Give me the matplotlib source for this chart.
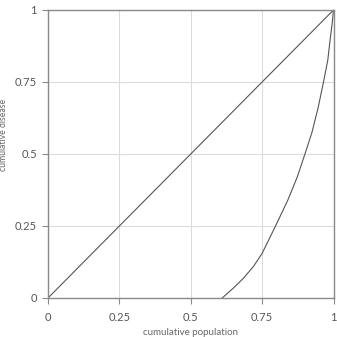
import matplotlib
matplotlib.use("Agg")
import matplotlib.pyplot as plt

ticks = [0, 0.25, 0.5, 0.75, 1]
tick_labels = ["0", "0.25", "0.5", "0.75", "1"]
diag_x = [0, 1]
diag_y = [0, 1]
curve_x = [0.61, 0.65, 0.684, 0.72, 0.75, 0.797, 0.84, 0.873, 0.90, 0.924, 0.946, 0.965, 0.98, 0.988, 0.995, 1.0]
curve_y = [0.0, 0.035, 0.068, 0.11, 0.155, 0.25, 0.34, 0.42, 0.5, 0.573, 0.66, 0.75, 0.826, 0.896, 0.95, 1.0]

plt.rcParams['font.family'] = ['Lato', 'DejaVu Sans']
fig = plt.figure(figsize=(3.37, 3.37), dpi=100)
ax = fig.add_axes([48/337, 39/337, 285.5/337, 288/337])
ax.set_xlim(0, 1)
ax.set_ylim(0, 1)
ax.set_xticks(ticks)
ax.set_xticklabels(tick_labels)
ax.set_yticks(ticks)
ax.set_yticklabels(tick_labels)
ax.grid(True, color="#dcdcdc", linewidth=0.8)
ax.set_axisbelow(True)
for s in ax.spines.values():
    s.set_color("#8a8a8a")
    s.set_linewidth(1.0)
ax.tick_params(direction="out", length=4, width=0.8, color="#8a8a8a", labelcolor="#555555", labelsize=8, pad=4)
ax.tick_params(axis="x", pad=6)
ax.plot(diag_x, diag_y, color="#555555", linewidth=0.8)
ax.plot(curve_x, curve_y, color="#555555", linewidth=0.8)
ax.set_xlabel("cumulative population", fontsize=7, color="#666666", labelpad=4)
ax.set_ylabel("cumulative disease", fontsize=6.2, color="#666666")
ax.yaxis.set_label_coords(-0.141, 0.566)
fig.savefig("out.png", dpi=100)
